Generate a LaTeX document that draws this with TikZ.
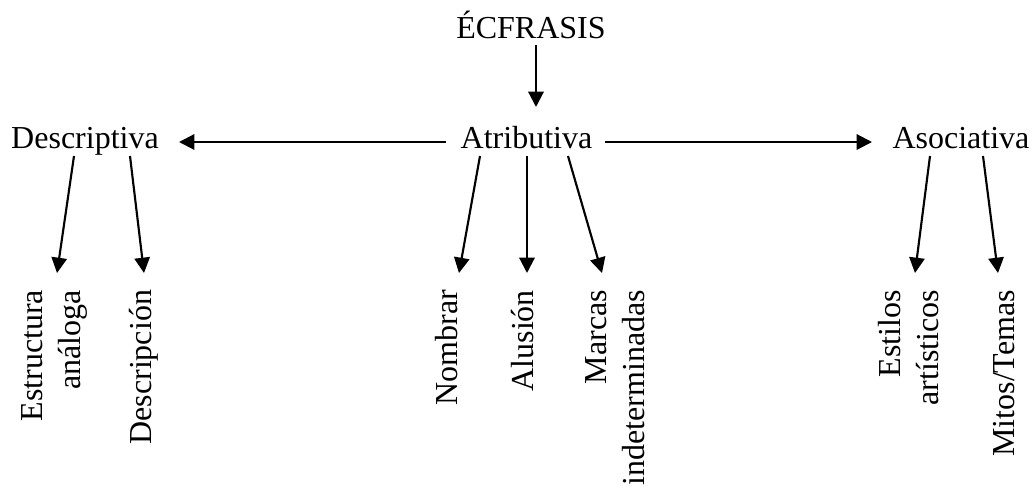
\documentclass[tikz,border=0pt]{standalone}
\usepackage{fontspec}
\setmainfont{Liberation Serif}
\usetikzlibrary{arrows.meta,calc}
\begin{document}
\begin{tikzpicture}[x=0.75pt,y=-0.75pt,
  every node/.style={inner sep=0pt,outer sep=0pt,font=\fontsize{24}{28.5}\selectfont},
  top/.style={anchor=base},
  lab/.style={rotate=90,anchor=east,align=right},
  arr/.style={line width=1.6pt,-{Triangle[length=11.5pt,width=11.5pt]}}]
\useasboundingbox (0,0) rectangle (1033,487);
\node[top] (ecf) at (531,38) {ÉCFRASIS};
\node[top] (atr) at (526.5,148) {Atributiva};
\node[top] (desc) at (85,148) {Descriptiva};
\node[top] (asoc) at (961,148) {Asociativa};
\node[lab] (estr) at (54,290) {Estructura\\análoga};
\node[lab] (descr) at (144,290) {Descripción};
\node[lab] (nomb) at (447,290) {Nombrar};
\node[lab] (alus) at (522.5,290) {Alusión};
\node[lab] (marc) at (615,290) {Marcas\\indeterminadas};
\node[lab] (esti) at (909,290) {Estilos\\artísticos};
\node[lab] (mito) at (1004,290) {Mitos/Temas};
\draw[arr] ($(ecf.base)+(5,7)$) -- ($(atr.base)+(9.5,-41)$);
\draw[arr] ($(atr.base)+(-80.5,-6)$) -- ($(desc.base)+(94,-6)$);
\draw[arr] ($(atr.base)+(78.5,-6)$) -- ($(asoc.base)+(-89,-6)$);
\draw[arr] ($(desc.base)+(-11,8)$) -- ($(estr.east)+(3,-17)$);
\draw[arr] ($(desc.base)+(45,8)$) -- ($(descr.east)+(0,-17)$);
\draw[arr] ($(atr.base)+(-46.5,8)$) -- ($(nomb.east)+(12,-17)$);
\draw[arr] ($(atr.base)+(0.5,8)$) -- ($(alus.east)+(4.5,-17)$);
\draw[arr] ($(atr.base)+(41.5,8)$) -- ($(marc.east)+(-13,-17)$);
\draw[arr] ($(asoc.base)+(-31,8)$) -- ($(esti.east)+(6,-17)$);
\draw[arr] ($(asoc.base)+(22,8)$) -- ($(mito.east)+(-6,-17)$);
\end{tikzpicture}
\end{document}
